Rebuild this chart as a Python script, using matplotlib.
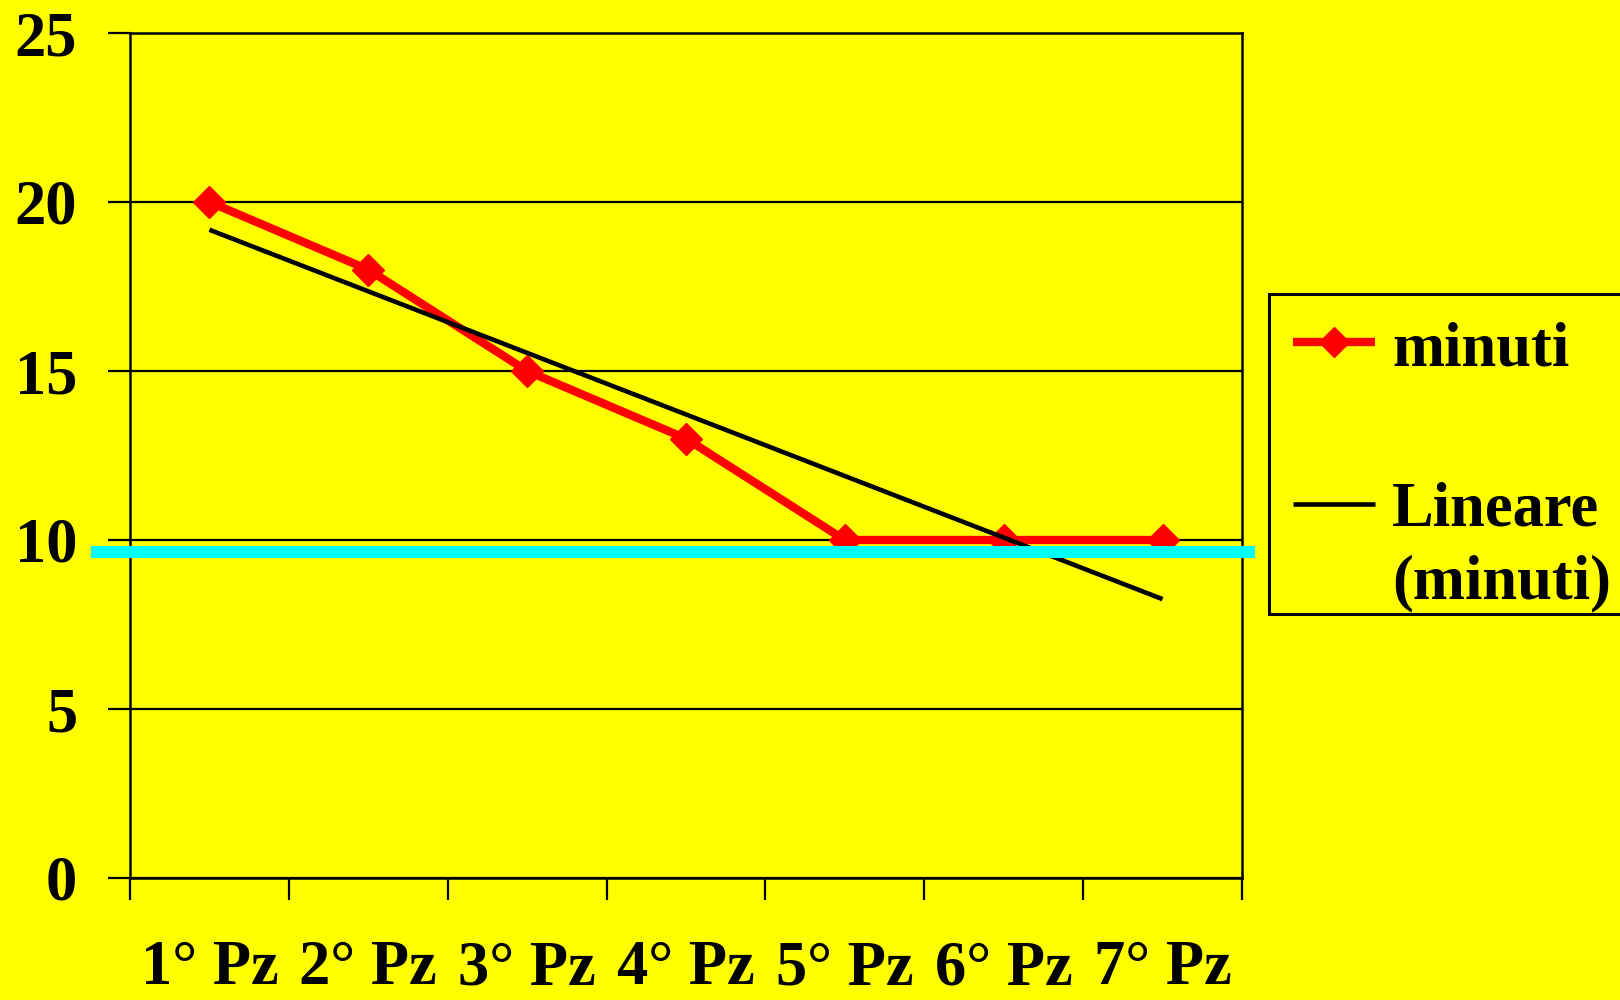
import numpy as np
import matplotlib
matplotlib.use("Agg")
import matplotlib.pyplot as plt
from matplotlib.lines import Line2D
from matplotlib.patches import Rectangle

# ---- data ----
categories = ["1° Pz", "2° Pz", "3° Pz", "4° Pz", "5° Pz", "6° Pz", "7° Pz"]
minuti = [20, 18, 15, 13, 10, 10, 10]
y_ticks = [0, 5, 10, 15, 20, 25]
threshold = 9.65
series_label = "minuti"
trend_label_1 = "Lineare"
trend_label_2 = "(minuti)"

BG = "#FFFF00"
FONT = "Liberation Serif"
FS = 45

fig = plt.figure(figsize=(16.2, 10), dpi=100, facecolor=BG)
ax = fig.add_axes([130 / 1620, 1 - 878 / 1000, (1242 - 130) / 1620, (878 - 33) / 1000])
ax.set_facecolor(BG)

x = np.arange(len(categories))
ax.plot(x, minuti, color="#FF0000", lw=6, marker="D", ms=16, mec="#FF0000",
        mew=1, zorder=3, solid_joinstyle="round")

# linear trend line (least squares)
coef = np.polyfit(x + 1, minuti, 1)
trend = np.polyval(coef, x + 1)
ax.plot(x, trend, color="black", lw=3.3, zorder=4, solid_capstyle="butt")

# cyan horizontal line extending beyond the plot area
ax.plot([-0.745, 6.582], [threshold, threshold], color="#00FFFF", lw=8.6,
        solid_capstyle="butt", clip_on=False, zorder=6)

ax.set_xlim(-0.5, len(categories) - 0.5)
ax.set_ylim(0, 25)
ax.set_yticks(y_ticks)
ax.set_yticklabels([str(v) for v in y_ticks], fontfamily=FONT, fontweight="bold", fontsize=FS)
ax.yaxis.grid(True, color="black", lw=1.6, zorder=1)
ax.set_axisbelow(True)

ax.set_xticks(np.arange(-0.5, len(categories)))
ax.set_xticklabels([])
ax.set_xticks(x, minor=True)
ax.set_xticklabels(categories, minor=True, fontfamily=FONT, fontweight="bold", fontsize=FS)
ax.tick_params(axis="x", which="major", direction="out", length=16, width=1.6, color="black")
ax.tick_params(axis="x", which="minor", length=0, pad=45)
ax.tick_params(axis="y", direction="out", length=16, width=1.6, pad=22, color="black")

for s in ["left", "bottom", "right", "top"]:
    ax.spines[s].set_linewidth(1.8)
    ax.spines[s].set_color("black")

# ---- legend (drawn in figure pixel coordinates) ----
W, H = 1620, 1000
def fx(px):
    return px / W
def fy(py):
    return 1 - py / H

fig.patches.append(Rectangle((fx(1269), fy(614)), fx(1700) - fx(1269), fy(294) - fy(614),
                             transform=fig.transFigure, facecolor=BG, edgecolor="black",
                             lw=2.2, zorder=10))
fig.lines.append(Line2D([fx(1293), fx(1375)], [fy(342), fy(342)], transform=fig.transFigure,
                        color="#FF0000", lw=6, solid_capstyle="butt", zorder=11))
fig.lines.append(Line2D([fx(1334)], [fy(342)], transform=fig.transFigure, marker="D", ms=15,
                        color="#FF0000", mec="#FF0000", zorder=12))
fig.lines.append(Line2D([fx(1293), fx(1375)], [fy(504), fy(504)], transform=fig.transFigure,
                        color="black", lw=3.3, solid_capstyle="butt", zorder=11))
fig.text(fx(1392), fy(365), series_label, fontfamily=FONT, fontweight="bold", fontsize=FS,
         va="baseline", ha="left", zorder=12)
fig.text(fx(1392), fy(525), trend_label_1, fontfamily=FONT, fontweight="bold", fontsize=FS,
         va="baseline", ha="left", zorder=12)
fig.text(fx(1392), fy(598), trend_label_2, fontfamily=FONT, fontweight="bold", fontsize=FS,
         va="baseline", ha="left", zorder=12)

fig.savefig("out.png", dpi=100, facecolor=BG)
